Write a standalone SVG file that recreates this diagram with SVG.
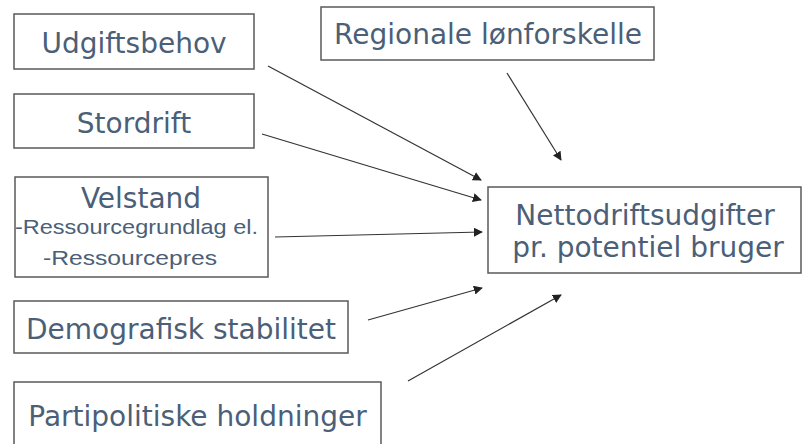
<svg xmlns="http://www.w3.org/2000/svg" width="803" height="444" viewBox="0 0 803 444">
<defs>
<style>
.box{fill:#fff;stroke:#5a5a5a;stroke-width:1.5}
.t{font-family:"DejaVu Sans",Verdana,sans-serif;font-size:28px;fill:#4b5f78;text-anchor:middle}
.s{font-family:"Liberation Sans",Arial,sans-serif;font-size:20.5px;fill:#4b5f78}
.c{stroke:#333;stroke-width:1.2;fill:none;marker-end:url(#ah)}
</style>
<marker id="ah" viewBox="0 0 10 10" refX="9" refY="5" markerWidth="9" markerHeight="9" markerUnits="userSpaceOnUse" orient="auto">
<path d="M0,0 L10,5 L0,10 z" fill="#222"/>
</marker>
</defs>
<rect width="803" height="444" fill="#fff"/>
<g id="udgiftsbehov"><rect class="box" x="14" y="14" width="240" height="55"/><text class="t" x="134" y="53">Udgiftsbehov</text></g>
<g id="stordrift"><rect class="box" x="14" y="94" width="240" height="54"/><text class="t" x="134" y="133">Stordrift</text></g>
<g id="velstand"><rect class="box" x="15" y="177" width="253" height="100"/><text class="t" x="141" y="208">Velstand</text>
<text class="s" x="15" y="234" textLength="243" lengthAdjust="spacingAndGlyphs">-Ressourcegrundlag el.</text>
<text class="s" x="43" y="265" textLength="174" lengthAdjust="spacingAndGlyphs">-Ressourcepres</text></g>
<g id="demografisk"><rect class="box" x="14" y="301" width="334" height="52"/><text class="t" x="181" y="339">Demografisk stabilitet</text></g>
<g id="partipolitiske"><rect class="box" x="14" y="382" width="367" height="70"/><text class="t" x="197.5" y="426">Partipolitiske holdninger</text></g>
<g id="regionale"><rect class="box" x="321" y="7" width="333" height="53"/><text class="t" x="488" y="44">Regionale lønforskelle</text></g>
<g id="netto"><rect class="box" x="488" y="187" width="313" height="86"/><text class="t" x="645" y="225">Nettodriftsudgifter</text><text class="t" x="648" y="257">pr. potentiel bruger</text></g>
<g id="connectors">
<line class="c" x1="268" y1="66" x2="481" y2="180"/>
<line class="c" x1="262" y1="134" x2="481" y2="200"/>
<line class="c" x1="275" y1="237" x2="482" y2="232"/>
<line class="c" x1="368" y1="320" x2="482" y2="288"/>
<line class="c" x1="408" y1="381" x2="561" y2="295"/>
<line class="c" x1="507" y1="73" x2="561" y2="160"/>
</g>
</svg>
